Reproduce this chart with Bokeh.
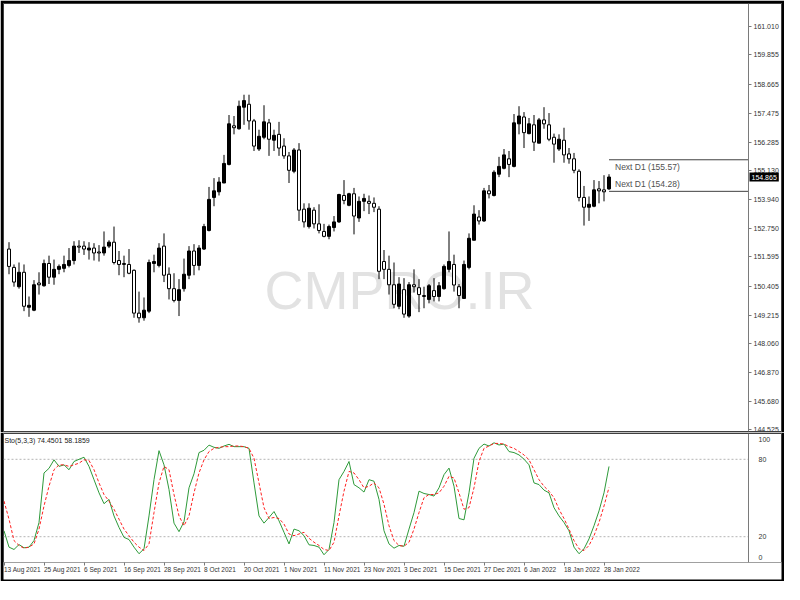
from bokeh.plotting import figure
from bokeh.layouts import column
from bokeh.models import (ColumnDataSource, Range1d, FixedTicker, PrintfTickFormatter, Label)
from bokeh.core.properties import value
from bokeh.embed import file_html
from bokeh.resources import INLINE

# ---------------- data ----------------
opens = [151.92, 151.17, 150.38, 150.97, 149.54, 149.42, 150.53, 150.42, 151.33, 150.77,
         151.09, 151.13, 151.25, 151.45, 152.04, 152.04, 151.88, 151.96, 151.80, 151.76,
         152.04, 152.20, 151.45, 151.33, 151.29, 151.05, 149.30, 149.11, 149.38, 151.33,
         151.25, 152.04, 150.89, 150.30, 149.82, 150.30, 150.85, 151.84, 151.25, 151.92,
         152.68, 154.03, 154.26, 154.62, 155.38, 156.96, 156.84, 157.72, 157.84, 157.16,
         156.01, 156.49, 157.08, 156.37, 156.61, 156.13, 155.73, 155.10, 155.97, 153.55,
         152.84, 153.51, 152.95, 152.64, 152.44, 152.80, 153.03, 154.11, 153.71, 154.18,
         153.19, 153.87, 153.87, 153.79, 153.55, 151.41, 151.09, 150.46, 149.58, 150.26,
         149.18, 150.46, 150.34, 150.02, 149.86, 150.22, 149.98, 150.30, 151.09, 151.29,
         150.38, 149.90, 151.17, 152.28, 153.23, 153.07, 154.30, 154.11, 154.98, 155.22,
         155.61, 155.30, 157.04, 157.32, 156.64, 157.00, 156.25, 157.20, 157.00, 156.49,
         156.01, 156.37, 155.81, 155.61, 155.10, 154.03, 153.63, 153.67, 154.38, 154.34,
         154.38]
highs = [152.20, 151.29, 151.37, 151.29, 149.98, 150.65, 150.97, 151.49, 151.65, 151.49,
         151.29, 151.65, 151.96, 152.24, 152.28, 152.24, 152.20, 152.16, 152.08, 152.64,
         152.28, 152.84, 151.84, 151.65, 151.92, 151.09, 150.18, 149.94, 151.49, 151.69,
         152.16, 152.56, 151.17, 150.93, 150.69, 151.53, 152.04, 152.12, 152.08, 152.95,
         154.46, 154.82, 154.86, 155.77, 157.40, 157.36, 157.99, 158.23, 158.23, 157.24,
         156.80, 157.80, 157.24, 156.80, 157.12, 156.45, 155.89, 156.05, 156.25, 153.79,
         153.79, 153.63, 153.75, 152.95, 152.92, 153.27, 154.18, 154.74, 154.22, 154.42,
         154.07, 154.18, 154.11, 154.03, 153.67, 151.88, 151.65, 151.37, 150.77, 150.73,
         150.57, 151.09, 150.69, 150.38, 150.49, 150.73, 150.57, 151.29, 152.64, 151.69,
         150.49, 151.45, 152.56, 153.71, 153.51, 154.42, 154.54, 155.14, 155.69, 156.01,
         155.93, 157.44, 157.76, 157.52, 157.28, 157.40, 157.28, 157.72, 157.48, 156.64,
         156.61, 156.88, 156.05, 155.85, 155.18, 154.50, 154.07, 154.74, 154.70, 154.94,
         154.98]
lows = [150.89, 150.38, 150.30, 149.38, 149.15, 149.38, 150.06, 150.38, 150.49, 150.46,
        150.89, 150.97, 151.17, 151.29, 151.76, 151.68, 151.49, 151.45, 151.41, 151.65,
        151.96, 151.29, 150.85, 150.77, 150.89, 149.11, 148.91, 148.99, 149.30, 150.97,
        151.17, 150.57, 149.86, 149.74, 149.18, 150.18, 150.69, 150.85, 151.05, 151.88,
        152.64, 153.67, 154.11, 154.62, 155.34, 156.61, 156.80, 157.00, 156.80, 155.93,
        155.93, 156.41, 155.73, 155.93, 155.73, 155.61, 154.62, 155.02, 153.07, 152.80,
        152.76, 152.76, 152.56, 152.40, 152.32, 152.64, 152.99, 153.75, 153.67, 152.52,
        153.03, 153.47, 153.35, 153.43, 150.69, 150.69, 150.06, 149.50, 149.46, 149.11,
        149.11, 150.14, 149.34, 149.50, 149.70, 149.78, 149.78, 150.26, 150.97, 150.18,
        149.50, 149.90, 151.09, 152.28, 152.92, 153.03, 153.99, 154.07, 154.86, 155.18,
        154.86, 155.26, 156.61, 156.05, 156.61, 155.93, 156.25, 156.84, 156.33, 155.45,
        155.93, 155.45, 155.41, 155.02, 153.87, 152.88, 153.07, 153.63, 153.79, 153.87,
        154.34]
closes = [151.21, 150.57, 150.97, 149.58, 149.62, 150.46, 150.46, 151.33, 150.77, 151.09,
          151.21, 151.29, 151.45, 152.04, 152.00, 151.92, 151.96, 151.76, 151.76, 152.00,
          152.20, 151.37, 151.29, 151.29, 150.93, 149.30, 149.11, 149.42, 151.37, 151.41,
          151.96, 150.85, 150.30, 149.82, 150.26, 150.89, 151.84, 151.25, 151.96, 152.84,
          153.95, 154.30, 154.66, 155.42, 157.04, 156.88, 157.76, 157.99, 157.16, 156.13,
          156.53, 157.12, 156.41, 156.57, 156.05, 155.73, 155.14, 155.97, 153.51, 153.03,
          153.59, 152.95, 152.68, 152.44, 152.84, 153.03, 154.15, 153.91, 154.18, 153.27,
          153.87, 153.99, 153.79, 153.63, 151.01, 151.09, 150.46, 149.66, 150.49, 149.26,
          150.46, 150.38, 150.06, 149.98, 150.42, 149.98, 150.42, 151.21, 151.41, 150.45,
          150.02, 151.29, 152.36, 153.35, 153.07, 154.30, 154.18, 155.06, 155.30, 155.77,
          155.38, 157.08, 157.36, 156.68, 157.04, 156.29, 157.20, 157.04, 156.41, 156.21,
          156.41, 155.77, 155.61, 155.14, 154.03, 153.63, 153.75, 154.34, 154.30, 154.26,
          154.865]

sto_k = [24.6, 11.9, 10.1, 13.9, 11.4, 11.9, 17.0, 31.0, 69.4, 73.0,
         79.6, 74.5, 75.7, 71.9, 78.3, 80.0, 81.6, 74.5, 64.2, 54.0,
         45.6, 48.9, 36.1, 27.2, 19.5, 17.8, 11.9, 6.8, 10.6, 36.1,
         64.2, 86.7, 75.7, 56.6, 30.5, 23.9, 31.6, 57.9, 68.8, 85.2,
         87.0, 91.0, 89.3, 88.5, 90.3, 91.6, 89.8, 89.8, 89.8, 88.5,
         61.7, 36.1, 30.5, 34.9, 39.5, 32.3, 23.4, 14.4, 25.9, 24.6,
         20.8, 13.7, 13.2, 11.9, 6.0, 10.1, 31.0, 64.2, 70.6, 78.3,
         60.4, 57.9, 54.6, 64.2, 63.0, 48.9, 24.6, 14.4, 11.1, 13.2,
         12.6, 25.9, 38.7, 55.3, 53.5, 52.7, 51.5, 57.9, 68.1, 73.2,
         59.1, 34.1, 33.1, 54.0, 80.8, 88.5, 91.8, 90.3, 92.8, 91.1,
         91.8, 86.0, 85.2, 83.4, 80.1, 75.7, 61.7, 60.4, 56.1, 54.0,
         42.5, 36.1, 31.0, 24.6, 11.9, 6.8, 10.6, 18.3, 28.5, 40.0,
         54.0, 74.4501]
sto_d = [47.6, 33.6, 17.0, 13.2, 11.1, 11.9, 14.4, 25.9, 43.8, 59.1,
         71.9, 75.7, 75.7, 74.5, 75.7, 77.0, 79.6, 79.1, 71.9, 61.7,
         52.7, 47.6, 41.3, 33.6, 25.9, 20.8, 15.7, 11.9, 9.3, 14.4,
         38.7, 61.7, 74.5, 71.9, 52.7, 36.1, 28.5, 36.1, 54.0, 69.4,
         79.6, 86.0, 88.5, 89.3, 89.8, 89.8, 90.3, 90.3, 89.8, 88.5,
         80.8, 61.7, 42.5, 34.1, 34.9, 34.1, 29.8, 22.1, 20.8, 22.1,
         23.4, 18.8, 15.7, 13.2, 10.1, 9.3, 15.7, 36.1, 55.3, 70.6,
         69.4, 64.2, 57.9, 59.1, 61.7, 57.9, 45.1, 28.5, 17.0, 13.2,
         12.6, 15.7, 25.9, 38.7, 50.2, 52.7, 52.7, 54.0, 59.1, 66.8,
         65.5, 54.0, 41.3, 42.5, 57.9, 78.3, 88.5, 90.3, 92.3, 92.3,
         91.8, 89.8, 88.5, 86.0, 83.4, 79.6, 71.9, 64.2, 59.1, 55.3,
         50.2, 41.3, 34.1, 25.9, 17.0, 10.6, 9.3, 13.2, 20.8, 31.0,
         43.8, 58.1859]

price_ticks = [161.010, 159.855, 158.665, 157.475, 156.285, 155.130, 153.940, 152.750,
               151.595, 150.405, 149.215, 148.060, 146.870, 145.680, 144.525]
date_ticks = [0, 8, 16, 24, 32, 40, 48, 56, 64, 72, 80, 88, 96, 104, 112, 120]
date_labels = ["13 Aug 2021", "25 Aug 2021", "6 Sep 2021", "16 Sep 2021", "28 Sep 2021",
               "8 Oct 2021", "20 Oct 2021", "1 Nov 2021", "11 Nov 2021", "23 Nov 2021",
               "3 Dec 2021", "15 Dec 2021", "27 Dec 2021", "6 Jan 2022", "18 Jan 2022",
               "28 Jan 2022"]
next_levels = [155.57, 154.28]
sto_levels = [20, 80]
sto_label_ticks = [3.5, 20, 80, 95.5]
sto_label_text = ["0", "20", "80", "100"]

# ---------------- layout constants ----------------
FONT = "Liberation Sans"
TOTAL_W = 784
BORDER = 3
FRAME_W = TOTAL_W - 2 * BORDER        # 778 px plot frame
AXIS_PX = 745                          # price scale line, px from the frame's left edge
PX_PER_BAR = 5.0
X0 = -0.1
X_AXIS = X0 + AXIS_PX / PX_PER_BAR     # where the price scale sits (bar units)

idx = list(range(1, len(closes) + 1))
sto_idx = list(range(0, len(sto_k)))

src = ColumnDataSource(dict(
    x=idx, o=opens, h=highs, l=lows, c=closes,
    top=[max(a, b) for a, b in zip(opens, closes)],
    bottom=[min(a, b) for a, b in zip(opens, closes)],
    fill=["black" if c > o else "white" for o, c in zip(opens, closes)],
))

xr = Range1d(X0, X0 + FRAME_W / PX_PER_BAR)

# ---------------- main price pane ----------------
main = figure(width=TOTAL_W, height=432, x_range=xr, y_range=Range1d(144.46, 161.96),
              output_backend="svg", toolbar_location=None,
              x_axis_location=None, y_axis_location="right",
              min_border_left=BORDER, min_border_top=BORDER, min_border_bottom=1,
              min_border_right=BORDER,
              border_fill_color="black", background_fill_color="white",
              outline_line_color="#404040")
main.grid.visible = False

ya = main.yaxis[0]
ya.fixed_location = X_AXIS
ya.ticker = FixedTicker(ticks=price_ticks)
ya.formatter = PrintfTickFormatter(format="%.3f")
ya.axis_line_color = "#7a7a7a"
ya.major_tick_line_color = "#7a7a7a"
ya.major_tick_out = 3
ya.major_tick_in = 0
ya.minor_tick_line_color = None
ya.major_label_text_font = FONT
ya.major_label_text_font_size = "7px"
ya.major_label_text_color = "#333333"
ya.major_label_standoff = 2

# watermark
main.add_layout(Label(x=396, y=142, x_units="screen", y_units="screen",
                      text="CMPRO.IR", text_font=FONT, text_font_size="54px",
                      text_color="#e2e2e2", text_align="center", text_baseline="middle",
                      level="underlay"))

main.segment(x0="x", y0="h", x1="x", y1="l", source=src, line_color="black", line_width=1)
main.vbar(x="x", width=0.6, top="top", bottom="bottom", source=src,
          fill_color="fill", line_color="black", line_width=1)

# next-day levels (end at the price scale)
main.segment(x0=[idx[-1]] * len(next_levels), y0=next_levels,
             x1=[X_AXIS] * len(next_levels), y1=next_levels,
             line_color="#404040", line_width=1)
main.text(x=[idx[-1] + 1.2], y=[next_levels[0]], text=[f"Next D1 ({next_levels[0]:.2f})"],
          text_font=value(FONT), text_font_size="8.5px", text_color="#505050",
          text_align="left", text_baseline="top", y_offset=2)
main.text(x=[idx[-1] + 1.2], y=[next_levels[1]], text=[f"Next D1 ({next_levels[1]:.2f})"],
          text_font=value(FONT), text_font_size="8.5px", text_color="#505050",
          text_align="left", text_baseline="bottom", y_offset=-2)

# current price tag on the price scale
main.add_layout(Label(x=AXIS_PX + 1, y=closes[-1], x_units="screen", y_units="data",
                      text=f"{closes[-1]:.3f}", text_font=FONT, text_font_size="7px",
                      text_color="white", background_fill_color="black",
                      text_align="left", text_baseline="middle", padding=2))

# ---------------- stochastic pane ----------------
sto = figure(width=TOTAL_W, height=149, x_range=xr, y_range=Range1d(0, 100),
             output_backend="svg", toolbar_location=None,
             x_axis_location="below", y_axis_location="right",
             min_border_left=BORDER, min_border_top=1, min_border_bottom=19,
             min_border_right=BORDER,
             border_fill_color="black", background_fill_color="white",
             outline_line_color="#404040")
sto.grid.visible = False

sto.segment(x0=[X0] * len(sto_levels), y0=sto_levels, x1=[X_AXIS] * len(sto_levels),
            y1=sto_levels, line_color="#b4b4b4", line_dash="2 2", line_width=1)

sto.line(sto_idx, sto_k, line_color="#2e9a3a", line_width=1)
sto.line(sto_idx, sto_d, line_color="#ff2020", line_width=1, line_dash="3 2")

xa = sto.xaxis[0]
xa.ticker = FixedTicker(ticks=date_ticks)
xa.major_label_overrides = {t: s for t, s in zip(date_ticks, date_labels)}
xa.major_label_orientation = -0.0001
xa.major_label_text_font = FONT
xa.major_label_text_font_size = "6.5px"
xa.major_label_text_color = "#333333"
xa.major_label_standoff = 4
xa.major_tick_out = 3
xa.major_tick_in = 0
xa.minor_tick_line_color = None
xa.axis_line_color = None
xa.major_tick_line_color = "#7a7a7a"
xa.background_fill_color = "white"

sa = sto.yaxis[0]
sa.fixed_location = X_AXIS
sa.ticker = FixedTicker(ticks=sto_label_ticks)
sa.major_label_overrides = {t: s for t, s in zip(sto_label_ticks, sto_label_text)}
sa.axis_line_color = "#7a7a7a"
sa.major_tick_line_color = None
sa.minor_tick_line_color = None
sa.major_label_text_font = FONT
sa.major_label_text_font_size = "7px"
sa.major_label_text_color = "#333333"
sa.major_label_standoff = 4

sto.add_layout(Label(x=1, y=122, x_units="screen", y_units="screen",
                     text=f"Sto(5,3,3) {sto_k[-1]:.4f} {sto_d[-1]:.4f}",
                     text_font=FONT, text_font_size="7px", text_color="#202020",
                     text_align="left", text_baseline="middle"))

p = column(main, sto, spacing=0)

open("out.html", "w").write(file_html(p, INLINE))
